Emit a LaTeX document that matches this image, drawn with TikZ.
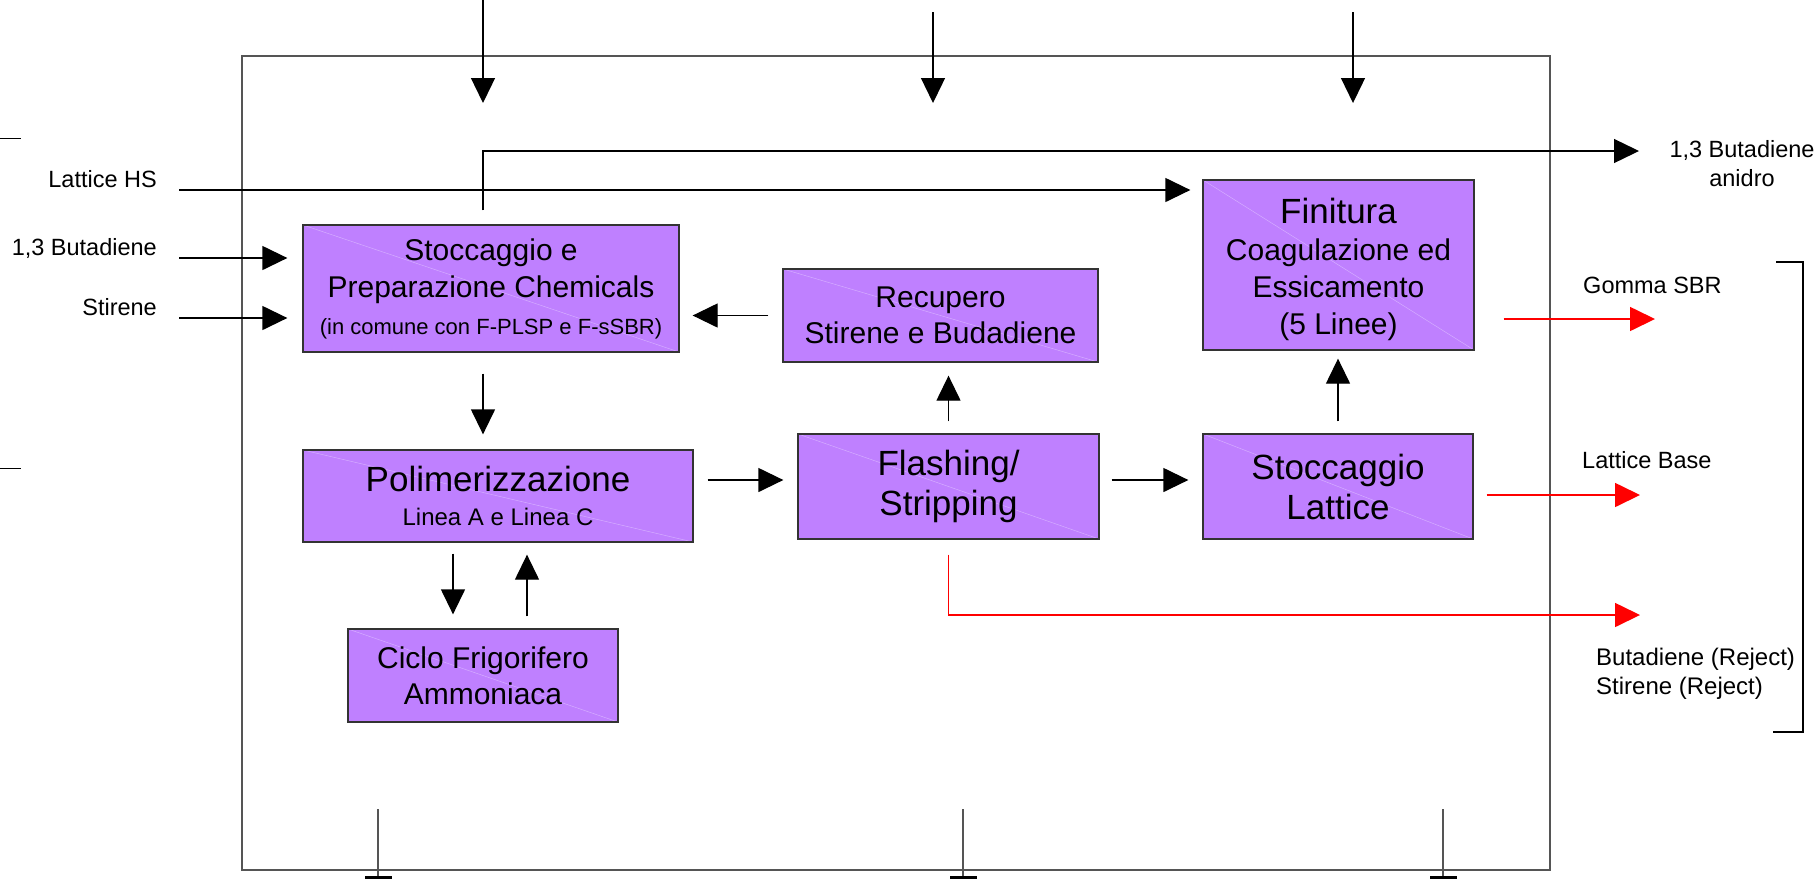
\documentclass[tikz,border=0pt]{standalone}
\usepackage{fontspec}
\setmainfont{Liberation Sans}
\usetikzlibrary{arrows.meta,calc}
\definecolor{boxfill}{RGB}{191,128,255}
\definecolor{framegray}{RGB}{85,85,85}
\definecolor{arrred}{RGB}{255,0,0}
\begin{document}
\begin{tikzpicture}[x=1pt,y=-1pt,
  box/.style={draw=black!80, line width=1.3pt, fill=boxfill, inner sep=0pt, align=center,
    path picture={\draw[white!35!boxfill, line width=0.5pt] (path picture bounding box.north west) -- (path picture bounding box.south east);}},
  fmed/.style={font=\fontsize{30}{36}\selectfont},
  fbig/.style={font=\fontsize{35}{40}\selectfont},
  lbl/.style={font=\fontsize{23.5}{29}\selectfont, inner sep=0pt},
  arr/.style={-{Triangle[length=25pt,width=24pt]}, line width=1.3pt, black},
  redarr/.style={-{Triangle[length=25pt,width=24pt]}, line width=1.6pt, draw=arrred},
  frameline/.style={draw=framegray, line width=1.2pt}]
\useasboundingbox (0,0) rectangle (1819,879);
\fill[white] (0,0) rectangle (1819,879);

% outer frame
\draw[frameline] (242,56) rectangle (1550,870);

% left short marks
\draw[line width=1pt] (0,138) -- (21,138);
\draw[line width=1pt] (0,468) -- (21,468);

% boxes
\node[box, fmed, minimum width=376pt, minimum height=127pt] (stoc) at (491,288.5)
  {Stoccaggio e\\[1pt] Preparazione Chemicals\\[1pt] {\fontsize{22}{26}\selectfont (in comune con F-PLSP e F-sSBR)}};
\node[box, fmed, minimum width=315pt, minimum height=93pt] (rec) at (940.5,315.5)
  {Recupero\\ Stirene e Budadiene};
\node[box, font=\fontsize{30}{37}\selectfont, minimum width=271pt, minimum height=170pt] (fin) at (1338.5,265)
  {\rule{0pt}{35pt}{\fontsize{35}{40}\selectfont Finitura}\\ Coagulazione ed\\ Essicamento\\ (5 Linee)};
\node[box, font=\fontsize{35}{34}\selectfont, minimum width=390pt, minimum height=92pt] (poli) at (498,496)
  {Polimerizzazione\\ {\fontsize{24}{28}\selectfont Linea A e Linea C}};
\node[box, fbig, minimum width=301pt, minimum height=105pt] (flash) at (948.5,486.5)
  {Flashing/\\ Stripping};
\node[box, fbig, minimum width=270pt, minimum height=105pt] (latt) at (1338,486.5)
  {Stoccaggio\\ Lattice};
\node[box, fmed, minimum width=270pt, minimum height=93pt] (ciclo) at (483,675.5)
  {Ciclo Frigorifero\\ Ammoniaca};

% outside labels
\node[lbl, anchor=base east] (lhs) at (157,187) {Lattice HS};
\node[lbl, anchor=base east] (lbut) at (157,255) {1,3 Butadiene};
\node[lbl, anchor=base east] (lsti) at (157,315) {Stirene};
\node[lbl, align=center, anchor=north] (lban) at (1742,140) {1,3 Butadiene\\ anidro};
\node[lbl, anchor=base west] (lgom) at (1583,293) {Gomma SBR};
\node[lbl, anchor=base west] (llb) at (1582,468) {Lattice Base};
\node[lbl, font=\fontsize{24}{29}\selectfont, align=left, anchor=north west] (lrej) at (1596,648) {Butadiene (Reject)\\ Stirene (Reject)};

% connector end points
\coordinate (t1) at (483,0);
\coordinate (t2) at (933,12);
\coordinate (t3) at (1353,12);
\coordinate (inhs) at (179,190);
\coordinate (inbut) at (179,258);
\coordinate (insti) at (179,318);
\coordinate (outban) at (1639,151);
\coordinate (outgom) at (1655,319);
\coordinate (outlb) at (1640,495);
\coordinate (outrej) at (1640,615);

% top input arrows
\draw[arr] (t1) -- ++(0,103);
\draw[arr] (t2) -- ++(0,91);
\draw[arr] (t3) -- ++(0,91);

% left inputs
\draw[arr] (inhs) -- ([xshift=-12pt]fin.west |- inhs);
\draw[arr] (inbut) -- ([xshift=-15pt]stoc.west |- inbut);
\draw[arr] (insti) -- ([xshift=-15pt]stoc.west |- insti);

% butadiene anidro
\draw[arr] ([yshift=14pt]stoc.north -| ciclo.north) |- (outban);

% internal flows
\draw[arr] ([xshift=-14pt]rec.west) -- ([xshift=13pt]rec.west -| stoc.east);
\draw[arr] ([yshift=-21pt]stoc.south -| ciclo.north) -- ([yshift=15pt]poli.north -| ciclo.north);
\draw[arr] ([xshift=-30pt,yshift=-11pt]poli.south -| ciclo.north) -- ([xshift=-30pt,yshift=14pt]ciclo.north);
\draw[arr] ([xshift=44pt,yshift=12pt]ciclo.north) -- ([xshift=44pt,yshift=-12pt]poli.south -| ciclo.north);
\draw[arr] ([xshift=14pt,yshift=6.5pt]flash.west -| poli.east) -- ([xshift=-14pt,yshift=6.5pt]flash.west);
\draw[arr] ([yshift=12pt]flash.north) -- ([yshift=-13pt]flash.north |- rec.south);
\draw[arr] ([xshift=12pt,yshift=6.5pt]flash.east) -- ([xshift=-14pt,yshift=6.5pt]latt.west);
\draw[arr] ([yshift=12pt]latt.north) -- ([yshift=-8pt]latt.north |- fin.south);

% red outputs
\draw[redarr] ([xshift=29pt]fin.east |- outgom) -- (outgom);
\draw[redarr] ([xshift=13pt]latt.east |- outlb) -- (outlb);
\draw[redarr] ([yshift=-15pt]flash.south) |- (outrej);

% right bracket
\draw[line width=1.3pt] (1776,262) -- (1803,262) -- (1803,732) -- (1773,732);

% bottom ticks
\foreach \bx in {378,963,1443}{
  \draw[frameline] (\bx,809) -- (\bx,879);
  \draw[line width=3pt] (\bx-13,877.5) -- (\bx+14,877.5);
}
\end{tikzpicture}
\end{document}
